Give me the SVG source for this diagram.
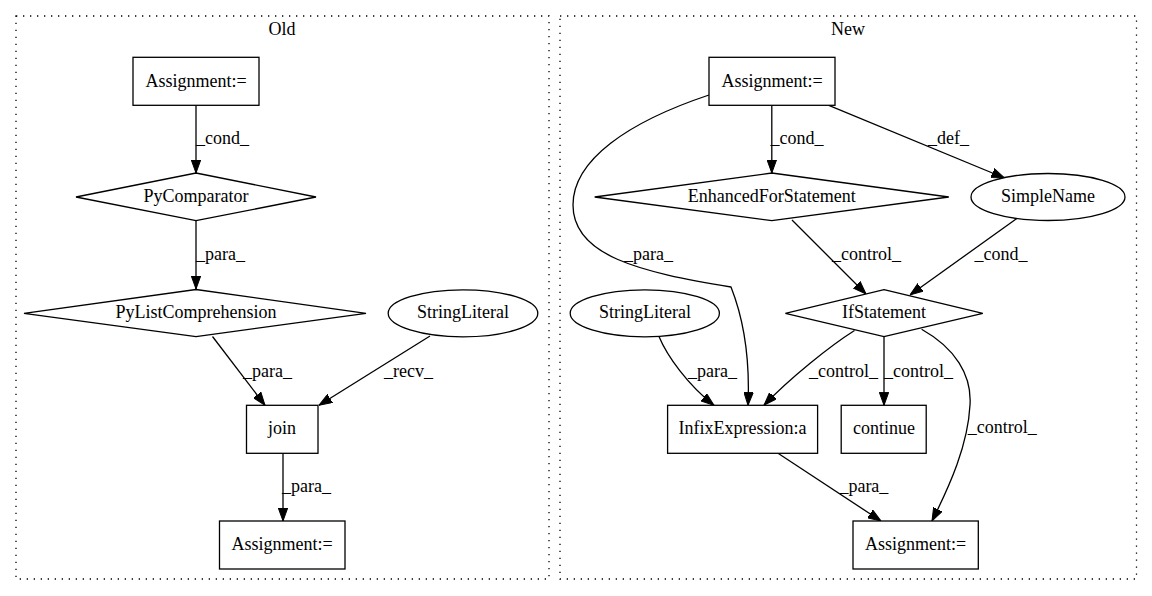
<svg xmlns="http://www.w3.org/2000/svg" width="1152" height="596" viewBox="0 0 1152 596">
<style>
text{font-family:"Liberation Serif","Times New Roman",serif;font-size:18px;fill:#000}
.c{text-anchor:middle}
.cl{fill:none;stroke:#000;stroke-width:1.3;stroke-dasharray:1.3 5.7}
.n{fill:#fff;stroke:#000;stroke-width:1.3}
.e{fill:none;stroke:#000;stroke-width:1.3;marker-end:url(#ah)}
</style>
<defs>
<marker id="ah" markerUnits="userSpaceOnUse" viewBox="0 0 13 10" refX="13" refY="5" markerWidth="13" markerHeight="10" orient="auto">
<path d="M0,0.3 L13,5 L0,9.7 z" fill="#000" stroke="#000" stroke-width="1"/>
</marker>
</defs>
<rect width="1152" height="596" fill="#fff"/>
<g id="cluster_old">
<rect class="cl" x="16" y="16" width="533" height="563"/>
<text class="c" x="282" y="35">Old</text>
</g>
<g id="cluster_new">
<rect class="cl" x="560" y="16" width="576.5" height="563"/>
<text class="c" x="848" y="35">New</text>
</g>
<g id="edges">
<path class="e" d="M196,105.3 L196,173"/>
<path class="e" d="M196,220.7 L196,289"/>
<path class="e" d="M212.5,336.5 L265,405.3"/>
<path class="e" d="M430,336 L319,405.3"/>
<path class="e" d="M283,453.3 L283,521"/>
<path class="e" d="M771.8,105.3 L771.8,173"/>
<path class="e" d="M828.8,105.3 L1004.5,178"/>
<path class="e" d="M709,95 C628,122 573,160 573,205 C573,256 640,272 731,287 C744,320 750,360 748,405.3"/>
<path class="e" d="M792,220 L866,294"/>
<path class="e" d="M1016.8,218.5 L910,295"/>
<path class="e" d="M659,336.5 C667,356 688,385 714,405.3"/>
<path class="e" d="M854.5,330.5 C830,346 790,378 764,405.3"/>
<path class="e" d="M884,336.7 L884,405.3"/>
<path class="e" d="M921.6,329.3 C955,348 972,375 970,405 C968,445 950,485 932,521"/>
<path class="e" d="M778,453.3 L881,521"/>
<text x="196" y="144">_cond_</text>
<text x="196" y="260">_para_</text>
<text x="243" y="377">_para_</text>
<text x="384" y="377">_recv_</text>
<text x="282" y="492">_para_</text>
<text x="770.6" y="144">_cond_</text>
<text x="928" y="144">_def_</text>
<text x="624" y="260">_para_</text>
<text x="832" y="260">_control_</text>
<text x="974.5" y="260">_cond_</text>
<text x="688" y="377">_para_</text>
<text x="809" y="377">_control_</text>
<text x="884" y="377">_control_</text>
<text x="967.7" y="433">_control_</text>
<text x="839.4" y="492">_para_</text>
</g>
<g id="old_assign1">
<rect class="n" x="133" y="57.3" width="126" height="48"/>
<text class="c" x="196" y="86.5">Assignment:=</text>
</g>
<g id="old_pycomparator">
<polygon class="n" points="196,173 316,197 196,220.7 76,197"/>
<text class="c" x="196" y="202">PyComparator</text>
</g>
<g id="old_pylistcomp">
<polygon class="n" points="196,289.5 366,313.3 196,336.7 24,313.3"/>
<text class="c" x="196" y="318">PyListComprehension</text>
</g>
<g id="old_stringliteral">
<ellipse class="n" cx="463" cy="313.3" rx="74.8" ry="23.5"/>
<text class="c" x="463" y="318">StringLiteral</text>
</g>
<g id="old_join">
<rect class="n" x="246.5" y="405.3" width="71.5" height="48"/>
<text class="c" x="282" y="434">join</text>
</g>
<g id="old_assign2">
<rect class="n" x="219.5" y="521" width="125.5" height="48"/>
<text class="c" x="282" y="550">Assignment:=</text>
</g>
<g id="new_assign1">
<rect class="n" x="709" y="57.3" width="126" height="48"/>
<text class="c" x="772" y="86.5">Assignment:=</text>
</g>
<g id="new_enhancedfor">
<polygon class="n" points="771.8,173 948.8,197 771.8,220.7 594.7,197"/>
<text class="c" x="771.8" y="202">EnhancedForStatement</text>
</g>
<g id="new_simplename">
<ellipse class="n" cx="1048" cy="197" rx="77" ry="23.5"/>
<text class="c" x="1048" y="202">SimpleName</text>
</g>
<g id="new_stringliteral">
<ellipse class="n" cx="644.8" cy="313.3" rx="74.6" ry="23.5"/>
<text class="c" x="645" y="318">StringLiteral</text>
</g>
<g id="new_ifstatement">
<polygon class="n" points="884,289.7 982.8,313.3 884,336.7 785.4,313.3"/>
<text class="c" x="884" y="318">IfStatement</text>
</g>
<g id="new_infix">
<rect class="n" x="667.6" y="405.3" width="150" height="48"/>
<text class="c" x="742.5" y="434">InfixExpression:a</text>
</g>
<g id="new_continue">
<rect class="n" x="841.2" y="405.3" width="85" height="48"/>
<text class="c" x="884" y="434">continue</text>
</g>
<g id="new_assign2">
<rect class="n" x="853" y="521" width="125.3" height="48"/>
<text class="c" x="915.6" y="550">Assignment:=</text>
</g>
</svg>
